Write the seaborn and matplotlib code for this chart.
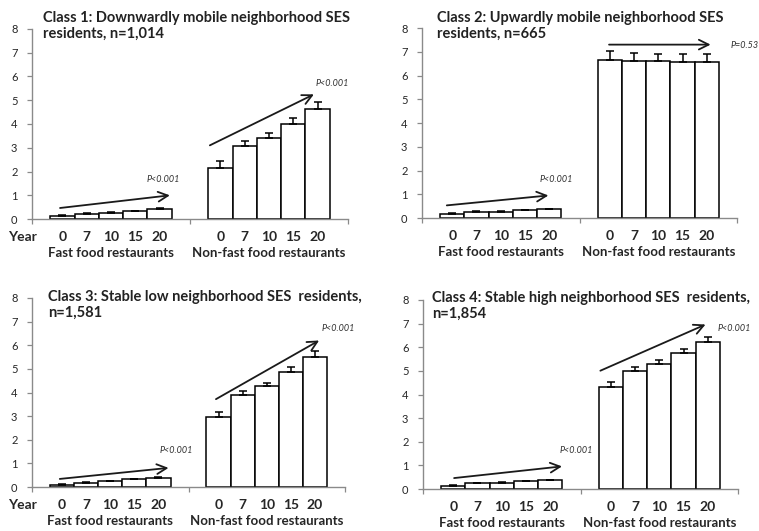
import numpy as np
import pandas as pd
import matplotlib
matplotlib.use("Agg")
import matplotlib.pyplot as plt
import seaborn as sns

# data
years = [0, 7, 10, 15, 20]
year_labels = ["0", "7", "10", "15", "20"]
categories = ["Fast food restaurants", "Non-fast food restaurants"]

class1_fast = [0.13, 0.22, 0.27, 0.32, 0.42]
class1_fast_err = [0.02, 0.02, 0.02, 0.02, 0.03]
class1_nonfast = [2.16, 3.07, 3.40, 4.02, 4.64]
class1_nonfast_err = [0.29, 0.21, 0.24, 0.25, 0.29]

class2_fast = [0.18, 0.27, 0.27, 0.32, 0.38]
class2_fast_err = [0.04, 0.02, 0.02, 0.02, 0.02]
class2_nonfast = [6.67, 6.63, 6.62, 6.58, 6.57]
class2_nonfast_err = [0.35, 0.30, 0.28, 0.32, 0.33]

class3_fast = [0.10, 0.18, 0.24, 0.33, 0.38]
class3_fast_err = [0.04, 0.04, 0.03, 0.02, 0.05]
class3_nonfast = [2.95, 3.88, 4.26, 4.88, 5.51]
class3_nonfast_err = [0.21, 0.17, 0.16, 0.21, 0.24]

class4_fast = [0.14, 0.25, 0.25, 0.33, 0.38]
class4_fast_err = [0.02, 0.02, 0.05, 0.02, 0.02]
class4_nonfast = [4.33, 4.99, 5.29, 5.77, 6.23]
class4_nonfast_err = [0.20, 0.18, 0.17, 0.15, 0.21]

titles = [
    "Class 1: Downwardly mobile neighborhood SES\nresidents, n=1,014",
    "Class 2: Upwardly mobile neighborhood SES\nresidents, n=665",
    "Class 3: Stable low neighborhood SES  residents,\nn=1,581",
    "Class 4: Stable high neighborhood SES  residents,\nn=1,854",
]
p_fast = ["P<0.001", "P<0.001", "P<0.001", "P<0.001"]
p_nonfast = ["P<0.001", "P=0.53", "P<0.001", "P<0.001"]

panels = [
    (class1_fast, class1_fast_err, class1_nonfast, class1_nonfast_err),
    (class2_fast, class2_fast_err, class2_nonfast, class2_nonfast_err),
    (class3_fast, class3_fast_err, class3_nonfast, class3_nonfast_err),
    (class4_fast, class4_fast_err, class4_nonfast, class4_nonfast_err),
]

# layout: axes rectangles (px), trend arrows, p-value label spots
W, H = 759, 531
axes_px = [(32, 219, 316, 190), (422, 218, 315, 190),
           (32, 487, 313, 189), (423, 489, 315, 189)]
arrows_fast = [(-0.34, 0.45, 0.39, 1.01), (-0.36, 0.52, 0.32, 0.96),
               (-0.34, 0.33, 0.39, 0.82), (-0.32, 0.45, 0.40, 0.97)]
arrows_non = [(0.61, 3.05, 1.30, 5.30), (0.67, 7.30, 1.35, 7.30),
              (0.66, 3.66, 1.35, 6.26), (0.61, 4.96, 1.31, 7.01)]
plabel_fast = [(0.33, 1.65, "center"), (0.355, 1.64, "center"),
               (0.42, 1.53, "center"), (0.476, 1.65, "center")]
plabel_non = [(1.40, 5.72, "center"), (1.46, 7.25, "left"),
              (1.455, 6.72, "center"), (1.37, 6.80, "left")]
title_px = [(43, 11), (437, 11), (48, 290), (432, 291)]
show_year = [True, False, True, False]

sns.set_style("white")
plt.rcParams["font.family"] = ["Lato", "DejaVu Sans"]

fig = plt.figure(figsize=(W / 100, H / 100), dpi=100)
spine_col = "#8a8a8a"

for k, (ff, ffe, nf, nfe) in enumerate(panels):
    l, b, w, h = axes_px[k]
    ax = fig.add_axes([l / W, 1 - b / H, w / W, h / H])

    df = pd.DataFrame({
        "category": [categories[0]] * 5 + [categories[1]] * 5,
        "year": year_labels * 2,
        "value": ff + nf,
    })
    sns.barplot(data=df, x="category", y="value", hue="year",
                order=categories, hue_order=year_labels,
                palette=["white"] * 5, edgecolor="black", linewidth=1.1,
                width=0.77, errorbar=None, legend=False, ax=ax)

    # upward-only error bars
    errs = [ffe, nfe]
    bar_conts = list(ax.containers)
    centers = []
    for i, cont in enumerate(bar_conts):
        for j, bar in enumerate(cont):
            xc = bar.get_x() + bar.get_width() / 2
            centers.append((xc, year_labels[i], j))
            e = errs[j][i]
            ax.errorbar(xc, bar.get_height(), yerr=[[0], [e]], fmt="none",
                        ecolor="black", elinewidth=1.1, capsize=3.2, capthick=1.1)

    ax.set_xlim(-0.5, 1.5)
    ax.set_ylim(0, 8)
    ax.set_yticks(range(0, 9))
    ax.set_yticklabels([str(v) for v in range(0, 9)], fontsize=8)
    ax.set_xticks([-0.5, 0.5, 1.5])
    ax.set_xticklabels([])
    ax.set_xlabel("")
    ax.set_ylabel("")
    ax.tick_params(axis="both", direction="out", length=3.5, width=0.9,
                   color=spine_col, pad=2, left=True, bottom=True)
    ax.tick_params(axis="y", pad=7)
    for s in ["top", "right"]:
        ax.spines[s].set_visible(False)
    for s in ["left", "bottom"]:
        ax.spines[s].set_color(spine_col)
        ax.spines[s].set_linewidth(1.0)

    trans = ax.get_xaxis_transform()
    for xc, lab, j in centers:
        ax.text(xc, -18 / h, lab, transform=trans, ha="center", va="center",
                fontsize=10, fontweight="bold", clip_on=False)
    ax.text(0, -34 / h, categories[0], transform=trans, ha="center", va="center",
            fontsize=9.5, fontweight="bold")
    ax.text(1, -34 / h, categories[1], transform=trans, ha="center", va="center",
            fontsize=9.5, fontweight="bold")
    if show_year[k]:
        ax.text(-10 / w, -18 / h, "Year", transform=ax.transAxes, ha="center",
                va="center", fontsize=10, fontweight="bold")

    for (x0, y0, x1, y1) in [arrows_fast[k], arrows_non[k]]:
        ax.annotate("", xy=(x1, y1), xytext=(x0, y0),
                    arrowprops=dict(arrowstyle="->,head_length=0.7,head_width=0.35",
                                    color="#1a1a1a", lw=1.3), annotation_clip=False)
    for (px, py, ha), txt in [(plabel_fast[k], p_fast[k]), (plabel_non[k], p_nonfast[k])]:
        ax.text(px, py, txt, ha=ha, va="center", fontsize=6.5, style="italic",
                color="#333333", clip_on=False)

    tx, ty = title_px[k]
    fig.text(tx / W, 1 - ty / H, titles[k], ha="left", va="top", fontsize=10.5,
             fontweight="bold", color="#222222", linespacing=1.2)

fig.savefig("out.png", dpi=100)
